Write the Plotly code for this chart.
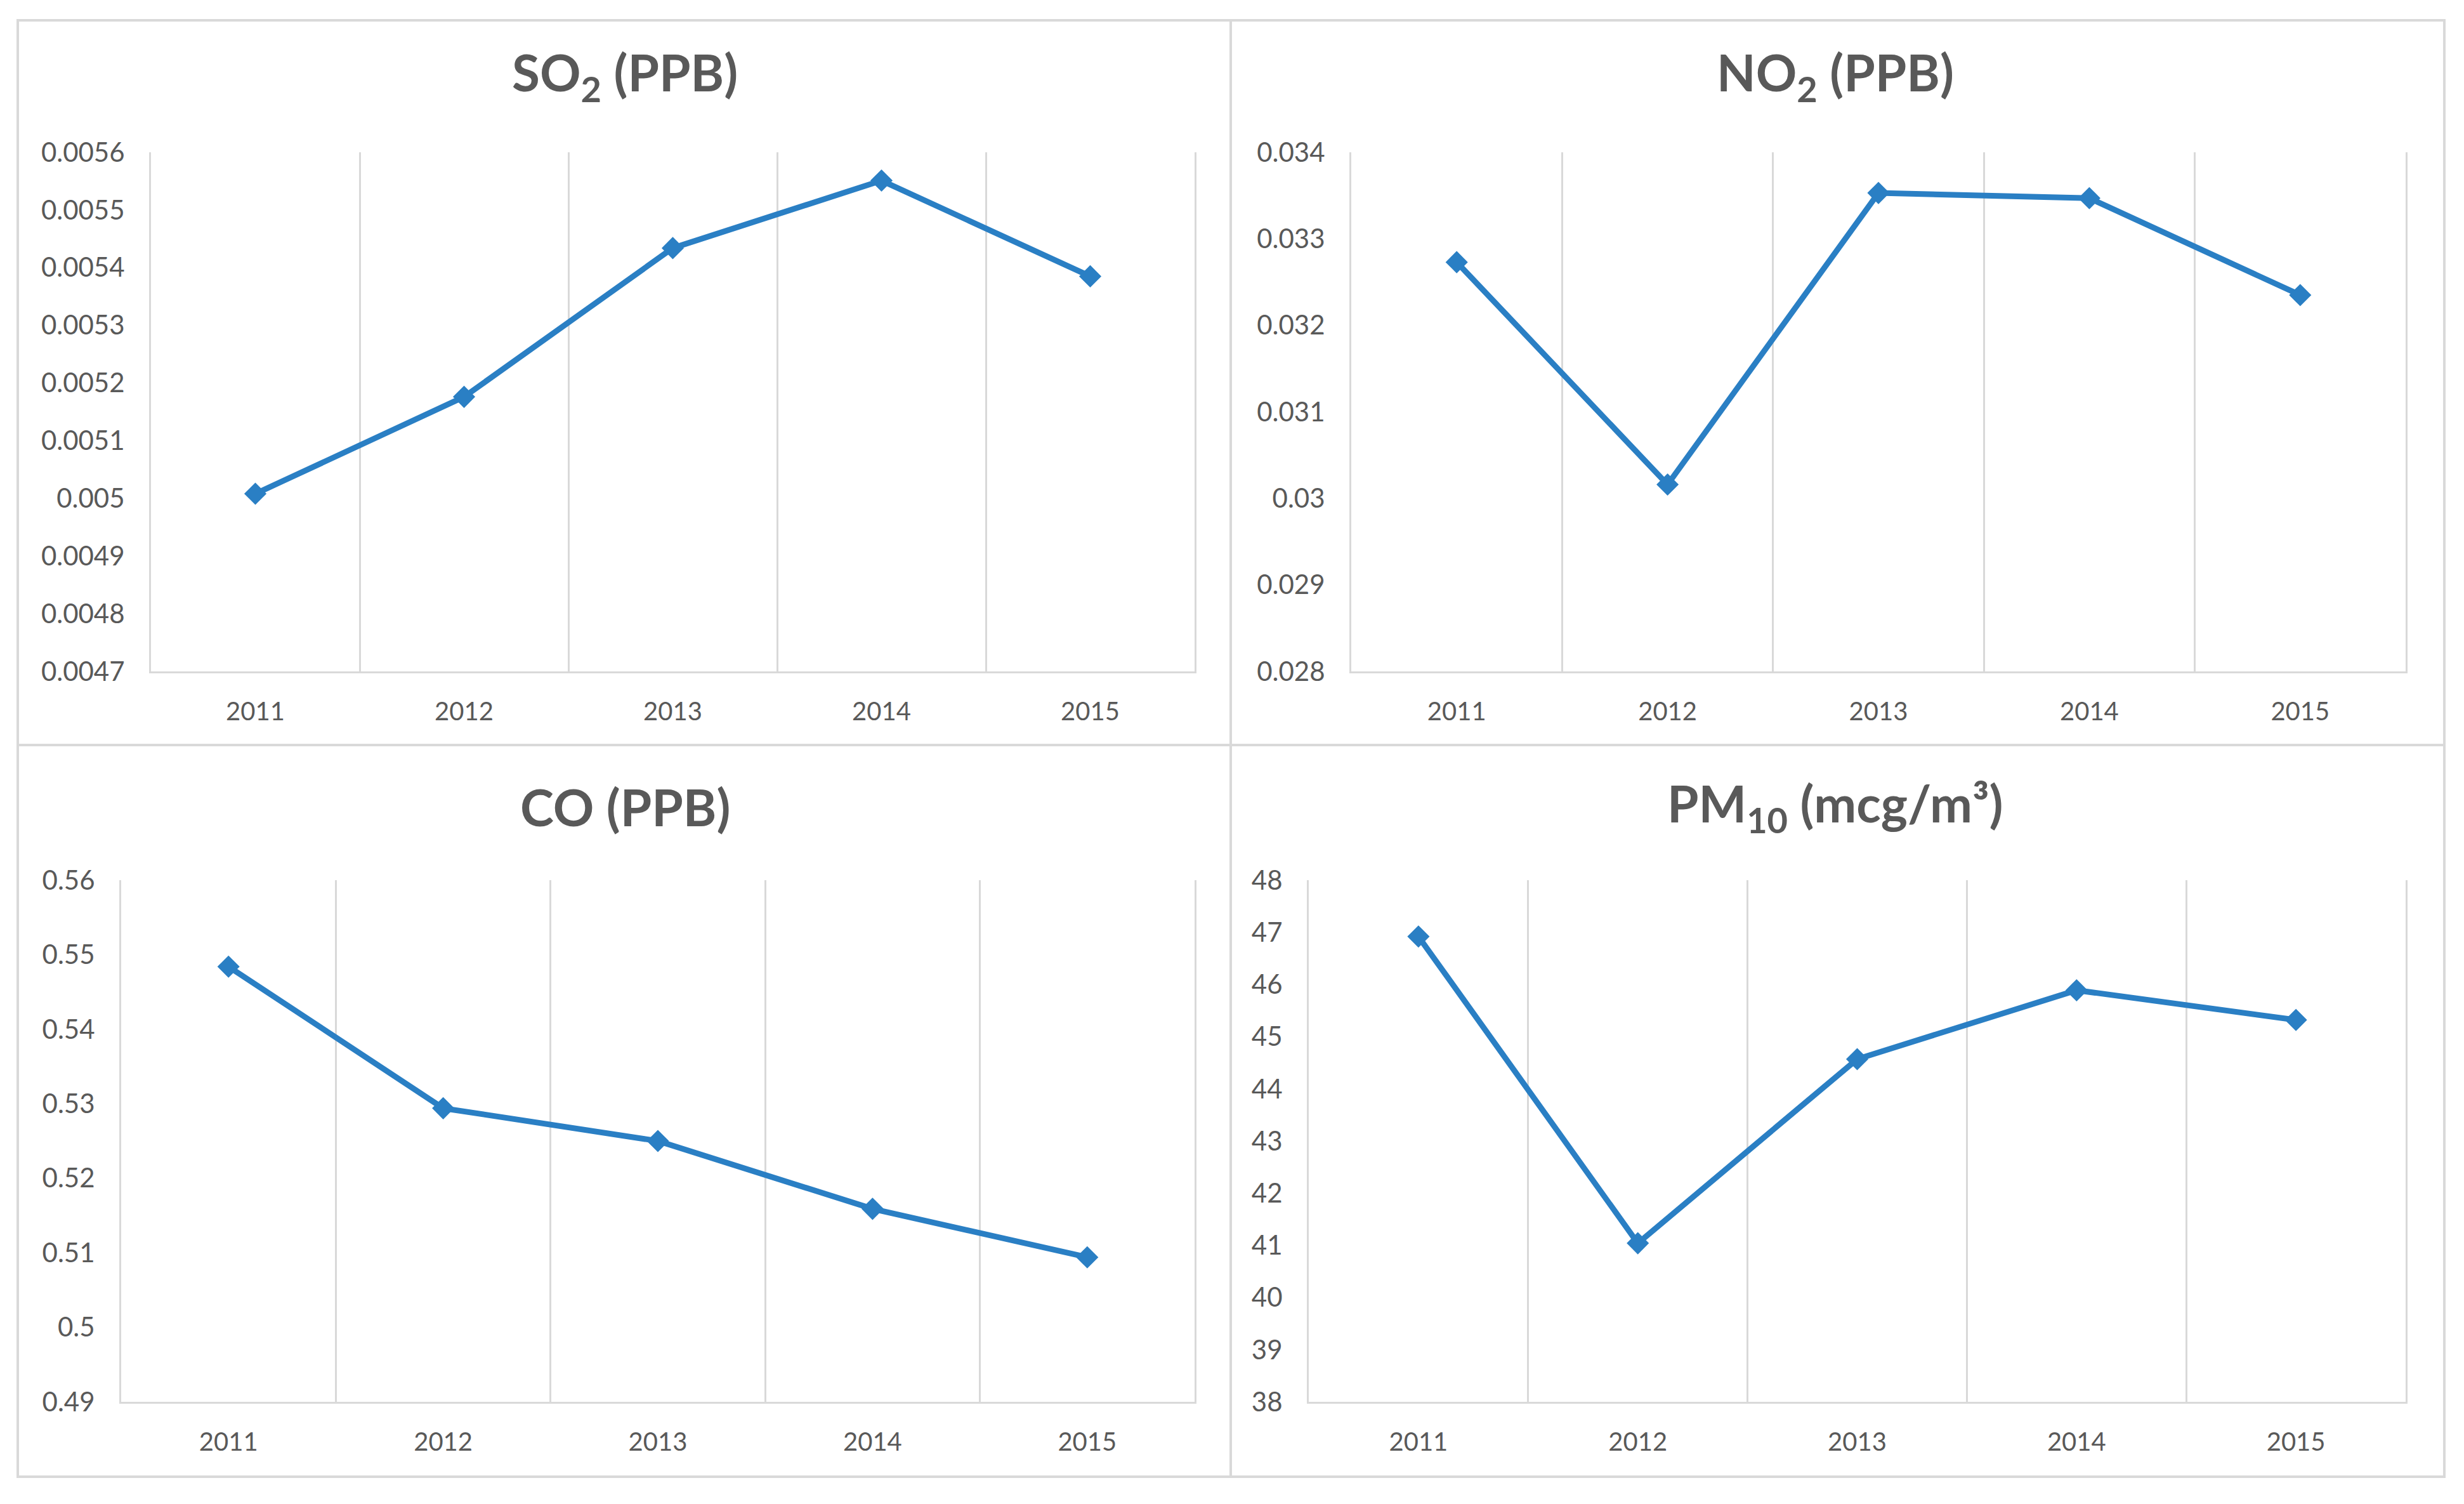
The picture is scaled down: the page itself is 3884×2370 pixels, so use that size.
import plotly.graph_objects as go

# ---------------- data ----------------
years = ["2011", "2012", "2013", "2014", "2015"]

so2 = [0.005008, 0.005176, 0.005434, 0.005551, 0.005385]
no2 = [0.03273, 0.03016, 0.03353, 0.03347, 0.03235]
co = [0.5484, 0.5294, 0.5250, 0.5159, 0.5094]
pm10 = [46.92, 41.04, 44.57, 45.89, 45.32]

so2_ticks = [0.0047, 0.0048, 0.0049, 0.0050, 0.0051, 0.0052, 0.0053, 0.0054, 0.0055, 0.0056]
so2_labels = ["0.0047", "0.0048", "0.0049", "0.005", "0.0051", "0.0052", "0.0053", "0.0054", "0.0055", "0.0056"]
no2_ticks = [0.028, 0.029, 0.030, 0.031, 0.032, 0.033, 0.034]
no2_labels = ["0.028", "0.029", "0.03", "0.031", "0.032", "0.033", "0.034"]
co_ticks = [0.49, 0.50, 0.51, 0.52, 0.53, 0.54, 0.55, 0.56]
co_labels = ["0.49", "0.5", "0.51", "0.52", "0.53", "0.54", "0.55", "0.56"]
pm_ticks = [38, 39, 40, 41, 42, 43, 44, 45, 46, 47, 48]
pm_labels = ["38", "39", "40", "41", "42", "43", "44", "45", "46", "47", "48"]

titles = ["SO<sub>2</sub> (PPB)", "NO<sub>2</sub> (PPB)", "CO (PPB)", "PM<sub>10</sub> (mcg/m³)"]

# ---------------- layout constants ----------------
W, H = 3884, 2370
LINE_COLOR = "#2A7FC4"
GRID = "#D9D9D9"
TXT = "#595959"
FONT = "Lato"

# plot areas in pixels: (x0, x1, ytop, ybottom)
areas = [
    (238, 1883, 240, 1058),
    (2130, 3792, 240, 1058),
    (191, 1883, 1387, 2209),
    (2063, 3792, 1387, 2209),
]
title_pos = [(985, 119), (2893, 119), (985, 1271), (2893, 1271)]

series = [
    (so2, so2_ticks, so2_labels),
    (no2, no2_ticks, no2_labels),
    (co, co_ticks, co_labels),
    (pm10, pm_ticks, pm_labels),
]

fig = go.Figure()
layout = dict(
    width=W, height=H, autosize=False,
    margin=dict(l=0, r=0, t=0, b=0, pad=0, autoexpand=False),
    paper_bgcolor="white", plot_bgcolor="white",
    showlegend=False,
    font=dict(family=FONT, color=TXT),
    annotations=[], shapes=[],
)

for i, ((vals, tv, tt), (x0, x1, yt, yb)) in enumerate(zip(series, areas)):
    n = "" if i == 0 else str(i + 1)
    xa, ya = "x" + n, "y" + n
    fig.add_trace(go.Scatter(
        x=years, y=vals, mode="lines+markers",
        line=dict(color=LINE_COLOR, width=9),
        marker=dict(symbol="diamond", size=27, color=LINE_COLOR),
        xaxis=xa, yaxis=ya, cliponaxis=False,
    ))
    layout["xaxis" + n] = dict(
        domain=[x0 / W, x1 / W], anchor=ya, type="category",
        range=[-0.5, len(years) - 0.5], automargin=False,
        tickson="boundaries", showgrid=True, gridcolor=GRID, gridwidth=3,
        showline=True, linecolor=GRID, linewidth=3,
        ticks="", tickfont=dict(family=FONT, size=40, color=TXT),
        ticklabelstandoff=26, fixedrange=True,
    )
    layout["yaxis" + n] = dict(
        domain=[1 - yb / H, 1 - yt / H], anchor=xa, automargin=False,
        range=[tv[0], tv[-1]], tickvals=tv, ticktext=tt,
        showgrid=False, zeroline=False,
        showline=True, mirror=True, linecolor=GRID, linewidth=3,
        ticks="", tickfont=dict(family=FONT, size=42, color=TXT),
        ticklabelstandoff=30, fixedrange=True,
    )
    tx, ty = title_pos[i]
    layout["annotations"].append(dict(
        text="<b>" + titles[i] + "</b>", xref="paper", yref="paper",
        x=tx / W, y=1 - ty / H, xanchor="center", yanchor="middle",
        showarrow=False, font=dict(family=FONT, size=80, color=TXT),
    ))

# outer frame and panel dividers
fl, ft, fr, fb = 28, 32, 3853, 2327
xm, ym = 1940, 1174
layout["shapes"].append(dict(type="rect", xref="paper", yref="paper",
                             x0=fl / W, x1=fr / W, y0=1 - fb / H, y1=1 - ft / H,
                             line=dict(color=GRID, width=4), layer="below"))
layout["shapes"].append(dict(type="line", xref="paper", yref="paper",
                             x0=xm / W, x1=xm / W, y0=1 - fb / H, y1=1 - ft / H,
                             line=dict(color=GRID, width=4), layer="below"))
layout["shapes"].append(dict(type="line", xref="paper", yref="paper",
                             x0=fl / W, x1=fr / W, y0=1 - ym / H, y1=1 - ym / H,
                             line=dict(color=GRID, width=4), layer="below"))

fig.update_layout(**layout)
fig.write_html(
    "out.html",
    config={"displayModeBar": False, "responsive": False},
    post_script="document.body.style.margin='0';document.body.style.overflow='hidden';",
)
